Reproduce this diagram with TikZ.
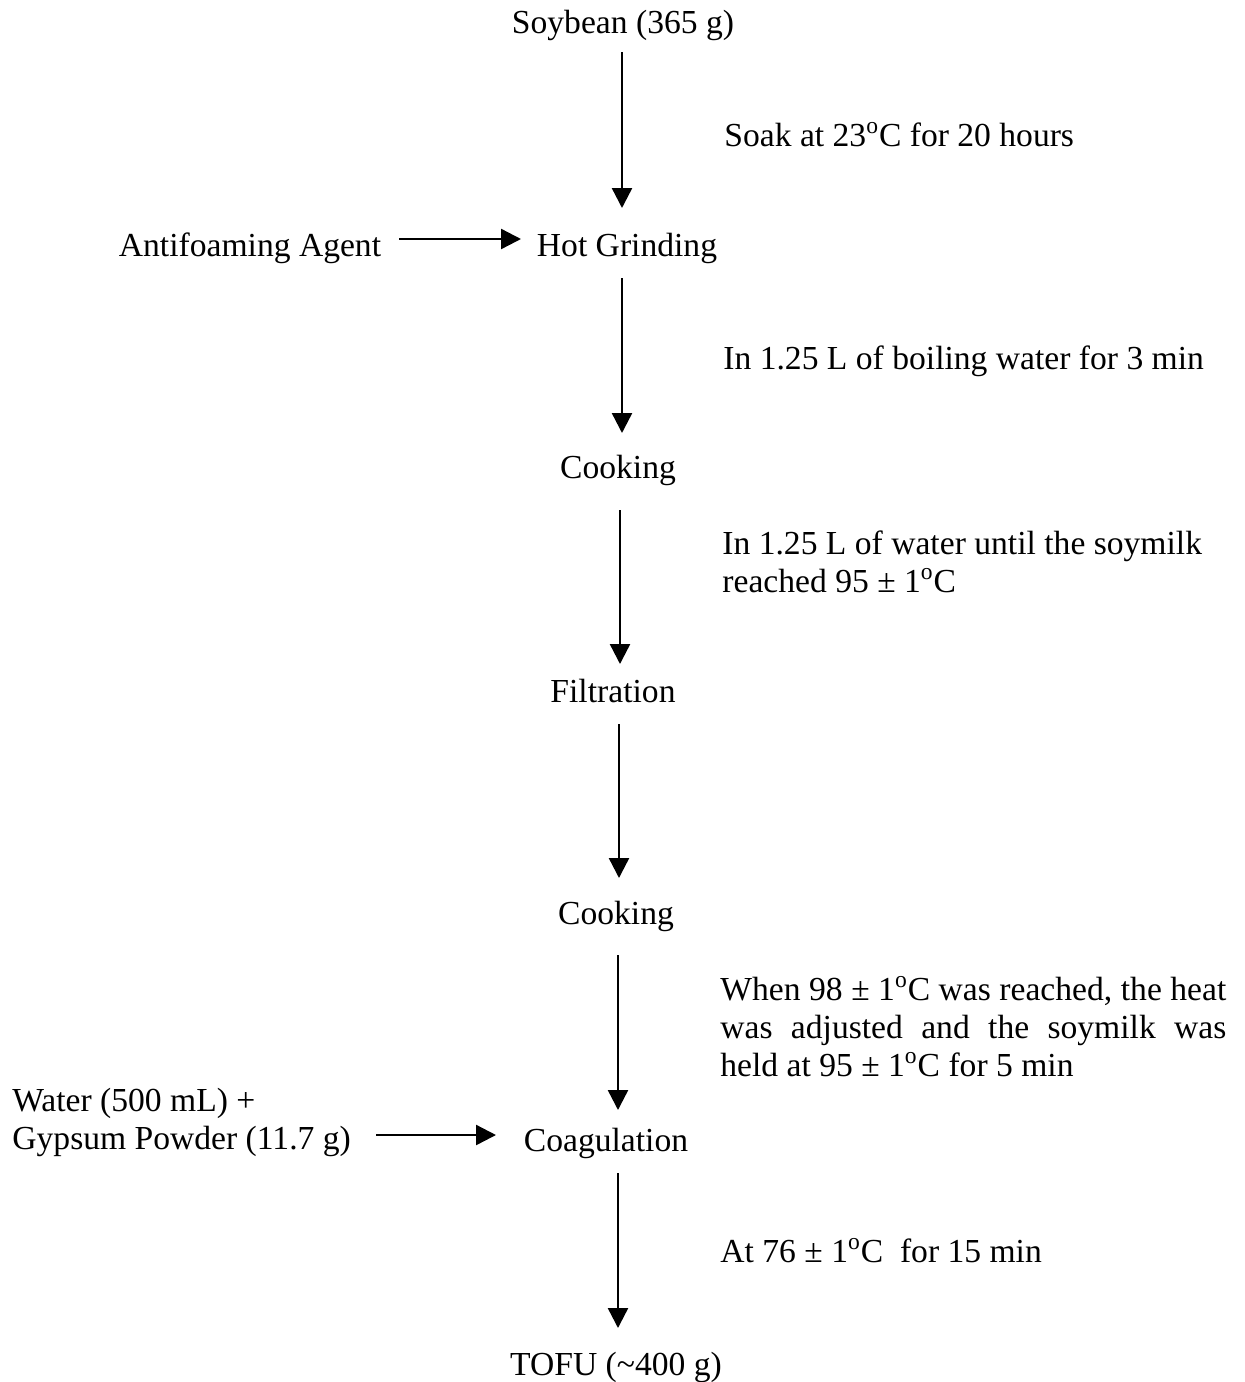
\documentclass[tikz,border=0pt]{standalone}
\usepackage{fontspec}
\setmainfont{Liberation Serif}
\usetikzlibrary{arrows.meta,calc}
\tikzset{
  lbl/.style={inner sep=0pt, font=\fontsize{16.8}{19}\selectfont},
  stepnode/.style={lbl, anchor=base},
  note/.style={lbl, anchor=north west, align=left},
  arr/.style={line width=1.2pt, -{Triangle[length=10pt,width=10pt]}}
}
\newcommand{\dg}{\textsuperscript{o}}
\begin{document}
\begin{tikzpicture}[x=0.5pt,y=-0.5pt]
\useasboundingbox (0,0) rectangle (1244,1382);
% main steps
\node[stepnode] (soy) at (623,33) {Soybean (365 g)};
\node[stepnode] (hot) at (627,256) {Hot Grinding};
\node[stepnode] (anti) at (250,256) {Antifoaming Agent};
\node[stepnode] (cook1) at (618,478) {Cooking};
\node[stepnode] (filt) at (613,702) {Filtration};
\node[stepnode] (cook2) at (616,924) {Cooking};
\node[stepnode] (coag) at (606,1151) {Coagulation};
\node[stepnode] (tofu) at (616,1375) {TOFU (\textasciitilde400 g)};
% side notes
\node[lbl, anchor=base west] (n1) at (724,146) {Soak at 23\dg C for 20 hours};
\node[lbl, anchor=base west] (n2) at (723,369) {In 1.25 L of boiling water for 3 min};
\node[note] (n3) at (722,530) {In 1.25 L of water until the soymilk\\ reached 95 ± 1\dg C};
\node[lbl, anchor=north west, text width=253pt, align=justify] (n4) at (720,976)
  {When 98 ± 1\dg C was reached, the heat\linebreak was adjusted and the soymilk was\linebreak held at 95 ± 1\dg C for 5 min};
\node[lbl, anchor=base west] (n5) at (720,1262) {At 76 ± 1\dg C\ \ for 15 min};
\node[note] (gyp) at (12,1088) {Water (500 mL) +\\Gypsum Powder (11.7 g)};
% vertical arrows
\draw[arr] ($(soy.base)+(-1,19)$) -- ($(hot.base)+(-5,-48)$);
\draw[arr] ($(hot.base)+(-5,22)$) -- ($(cook1.base)+(4,-45)$);
\draw[arr] ($(cook1.base)+(2,32)$) -- ($(filt.base)+(7,-38)$);
\draw[arr] ($(filt.base)+(6,22)$) -- ($(cook2.base)+(3,-46)$);
\draw[arr] ($(cook2.base)+(2,31)$) -- ($(coag.base)+(12,-41)$);
\draw[arr] ($(coag.base)+(12,22)$) -- ($(tofu.base)+(2,-47)$);
% horizontal arrows
\draw[arr] ($(anti.base)+(149,-17)$) -- ($(hot.base)+(-106,-17)$);
\draw[arr] ($(gyp.north west)+(364,47)$) -- ($(coag.base)+(-110,-16)$);
\end{tikzpicture}
\end{document}
